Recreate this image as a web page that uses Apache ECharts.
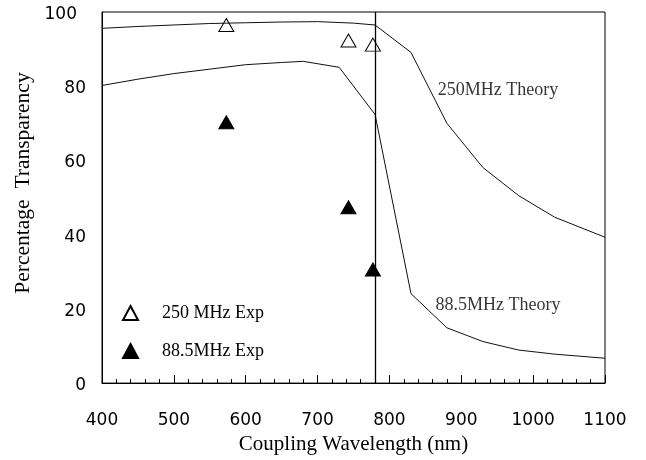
<!DOCTYPE html>
<html>
<head>
<meta charset="utf-8">
<title>Percentage Transparency</title>
<script src="https://cdn.jsdelivr.net/npm/echarts@6/dist/echarts.min.js"></script>
<style>
	html, body { margin: 0; padding: 0; background: #fff; }
	#main { width: 646px; height: 460px; }
</style>
</head>
<body>
<div id="main"></div>
<script>
// 250MHz 理论曲线
var theory250X = [400, 450, 500, 550, 600, 650, 700, 750, 780, 830, 880, 930, 980, 1030, 1100];
var theory250Y = [95.6, 96.1, 96.5, 96.9, 97.1, 97.3, 97.4, 97.0, 96.5, 89.1, 70.0, 58.1, 50.5, 44.7, 39.3];

// 88.5MHz 理论曲线
var theory88X = [400, 450, 500, 550, 600, 650, 680, 730, 780, 830, 880, 930, 980, 1030, 1100];
var theory88Y = [80.2, 81.9, 83.4, 84.6, 85.8, 86.4, 86.7, 85.1, 72.4, 24.1, 14.9, 11.2, 8.9, 7.8, 6.7];

// 实验点
var exp250X = [573, 743, 777];
var exp250Y = [96.5, 92.3, 91.2];
var exp88X = [573, 743, 777];
var exp88Y = [70.3, 47.4, 30.6];

// 曲线旁边的文字
var noteNames = ['250MHz Theory', '88.5MHz Theory'];
var noteX = [951, 951];
var noteY = [79.0, 21.1];

var markerX = 780;

var xTicks = [400, 500, 600, 700, 800, 900, 1000, 1100];
var yTicks = [0, 20, 40, 60, 80, 100];

function pairs(xs, ys) {
	var res = [];
	for (var i = 0; i < xs.length; i++) {
		res.push([xs[i], ys[i]]);
	}
	return res;
}

var serif = '"Liberation Serif", "Times New Roman", serif';
var sans = '"DejaVu Sans", sans-serif';

var myChart = echarts.init(document.getElementById('main'));

var option = {
	backgroundColor: '#fff',
	animation: false,
	grid: {
		left: 102,
		right: 41,
		top: 12,
		bottom: 75,
		show: true,
		borderColor: '#000',
		borderWidth: 1,
		backgroundColor: 'transparent'
	},
	legend: {
		orient: 'vertical',
		left: 122,
		top: 304,
		padding: 0,
		itemWidth: 15,
		itemHeight: 14,
		itemGap: 20,
		data: ['250 MHz Exp', '88.5MHz Exp'],
		textStyle: {
			fontFamily: serif,
			fontSize: 18,
			color: '#000',
			padding: [0, 0, 0, 19]
		}
	},
	xAxis: {
		type: 'value',
		min: xTicks[0],
		max: xTicks[xTicks.length - 1],
		interval: 100,
		name: 'Coupling Wavelength (nm)',
		nameLocation: 'middle',
		nameGap: 48,
		nameTextStyle: {
			fontFamily: serif,
			fontSize: 21,
			color: '#000'
		},
		axisLine: { show: true, lineStyle: { color: '#000', width: 1 } },
		axisTick: { show: true, inside: true, length: 8, lineStyle: { color: '#000' } },
		minorTick: { show: true, splitNumber: 5, length: 4, lineStyle: { color: '#000' } },
		splitLine: { show: false },
		axisLabel: {
			fontFamily: sans,
			fontSize: 17,
			color: '#000',
			margin: 29,
			formatter: function(v) {
				return String(v);
			}
		}
	},
	yAxis: {
		type: 'value',
		min: yTicks[0],
		max: yTicks[yTicks.length - 1],
		interval: 20,
		axisLine: { show: true, lineStyle: { color: '#000', width: 1 } },
		axisTick: { show: false },
		splitLine: { show: false },
		axisLabel: {
			fontFamily: sans,
			fontSize: 17,
			color: '#000',
			margin: 16,
			padding: [5, 0, 0, 0],
			formatter: function(v) {
				// 原图里 100 略微靠左
				if (v === 100) return '{a|100}';
				return String(v);
			},
			rich: {
				a: { fontFamily: sans, fontSize: 17, color: '#000', padding: [0, 9, 0, 0] }
			}
		}
	},
	graphic: [{
		type: 'text',
		x: 23,
		y: 183,
		rotation: Math.PI / 2,
		style: {
			text: 'Percentage  Transparency',
			fontFamily: serif,
			fontSize: 21.5,
			fill: '#000',
			align: 'center',
			verticalAlign: 'middle'
		}
	}],
	series: [
		{
			name: '250MHz Theory',
			type: 'line',
			data: pairs(theory250X, theory250Y),
			symbol: 'none',
			lineStyle: { color: '#111', width: 1 },
			markLine: {
				silent: true,
				symbol: 'none',
				label: { show: false },
				lineStyle: { color: '#000', width: 1.3, type: 'solid' },
				data: [{ xAxis: markerX }]
			}
		},
		{
			name: '88.5MHz Theory',
			type: 'line',
			data: pairs(theory88X, theory88Y),
			symbol: 'none',
			lineStyle: { color: '#111', width: 1 }
		},
		{
			name: '250 MHz Exp',
			type: 'scatter',
			data: pairs(exp250X, exp250Y),
			symbol: 'triangle',
			symbolSize: [15, 13],
			itemStyle: { color: '#fff', borderColor: '#000', borderWidth: 1, opacity: 1 }
		},
		{
			name: '88.5MHz Exp',
			type: 'scatter',
			data: pairs(exp88X, exp88Y),
			symbol: 'triangle',
			symbolSize: [15, 13],
			itemStyle: { color: '#000', borderColor: '#000', borderWidth: 1, opacity: 1 }
		},
		{
			name: 'notes',
			type: 'scatter',
			silent: true,
			symbolSize: 0,
			data: noteNames.map(function(n, i) {
				return { name: n, value: [noteX[i], noteY[i]] };
			}),
			label: {
				show: true,
				position: 'inside',
				formatter: '{b}',
				fontFamily: serif,
				fontSize: 18,
				color: '#000'
			}
		}
	]
};

myChart.setOption(option);
window.addEventListener('resize', function() {
	myChart.resize();
});
</script>
</body>
</html>
